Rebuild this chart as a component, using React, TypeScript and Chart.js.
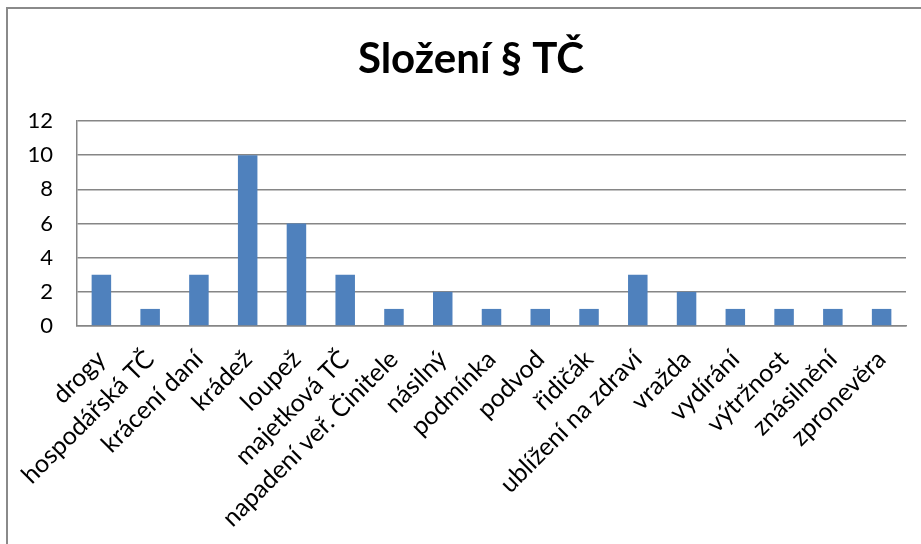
import { useEffect, useRef } from "react";
import { Chart, registerables } from "chart.js";

Chart.register(...registerables);

const chartTitle = "Složení § TČ";

const categories = [
  "drogy",
  "hospodářská TČ",
  "krácení daní",
  "krádež",
  "loupež",
  "majetková TČ",
  "napadení veř. Činitele",
  "násilný",
  "podmínka",
  "podvod",
  "řidičák",
  "ublížení na zdraví",
  "vražda",
  "vydírání",
  "výtržnost",
  "znásilnění",
  "zpronevěra",
];

const counts = [3, 1, 3, 10, 6, 3, 1, 2, 1, 1, 1, 3, 2, 1, 1, 1, 1];

const yMin = 0;
const yMax = 12;
const yStep = 2;

const titlePlugin = {
  id: "excelTitle",
  afterDraw(chart: any, _args: any, opts: any) {
    const ctx = chart.ctx;
    ctx.save();
    ctx.fillStyle = opts.color;
    ctx.font = opts.font;
    ctx.textAlign = "center";
    ctx.textBaseline = "alphabetic";
    ctx.fillText(opts.text, opts.x, opts.y);
    ctx.restore();
  },
};

export default function App() {
  const ref = useRef<HTMLCanvasElement>(null);

  useEffect(() => {
    if (!ref.current) return;
    const chart = new Chart(ref.current, {
      type: "bar",
      data: {
        labels: categories,
        datasets: [
          {
            data: counts,
            backgroundColor: "#4F81BD",
            barPercentage: 0.4,
            categoryPercentage: 1,
          },
        ],
      },
      plugins: [titlePlugin],
      options: {
        responsive: false,
        animation: false,
        layout: { padding: { left: 0, right: 15, top: 121, bottom: 0 } },
        plugins: {
          legend: { display: false },
          tooltip: { enabled: false },
          title: { display: false },
          excelTitle: {
            text: chartTitle,
            color: "#000",
            font: "bold 42px Lato",
            x: 471,
            y: 73,
          },
        } as any,
        scales: {
          x: {
            grid: { display: false },
            border: { display: true, color: "#868686", width: 1.5 },
            ticks: {
              color: "#000",
              font: { family: "Lato", size: 25, lineHeight: 1.6 },
              minRotation: 45,
              maxRotation: 45,
              padding: 7,
              autoSkip: false,
            },
            afterFit: (s: any) => {
              s.height = 218;
            },
          },
          y: {
            min: yMin,
            max: yMax,
            ticks: {
              stepSize: yStep,
              color: "#000",
              font: { family: "Lato", size: 22 },
              padding: 24,
            },
            grid: { color: "#868686", lineWidth: 1.5, drawTicks: false },
            border: { display: true, color: "#868686", width: 1.5 },
            afterFit: (s: any) => {
              s.width = 77;
            },
          },
        },
      },
    });
    return () => chart.destroy();
  }, []);

  return (
    <div
      style={{
        position: "absolute",
        left: 0,
        top: 0,
        width: 921,
        height: 544,
        overflow: "hidden",
        background: "#fff",
      }}
    >
      <div
        style={{
          position: "absolute",
          left: 6,
          top: 7,
          width: 1000,
          height: 1000,
          border: "2px solid #8a8a8a",
        }}
      />
      <canvas
        ref={ref}
        width={921}
        height={544}
        style={{ position: "absolute", left: 0, top: 0, display: "block" }}
      />
    </div>
  );
}
